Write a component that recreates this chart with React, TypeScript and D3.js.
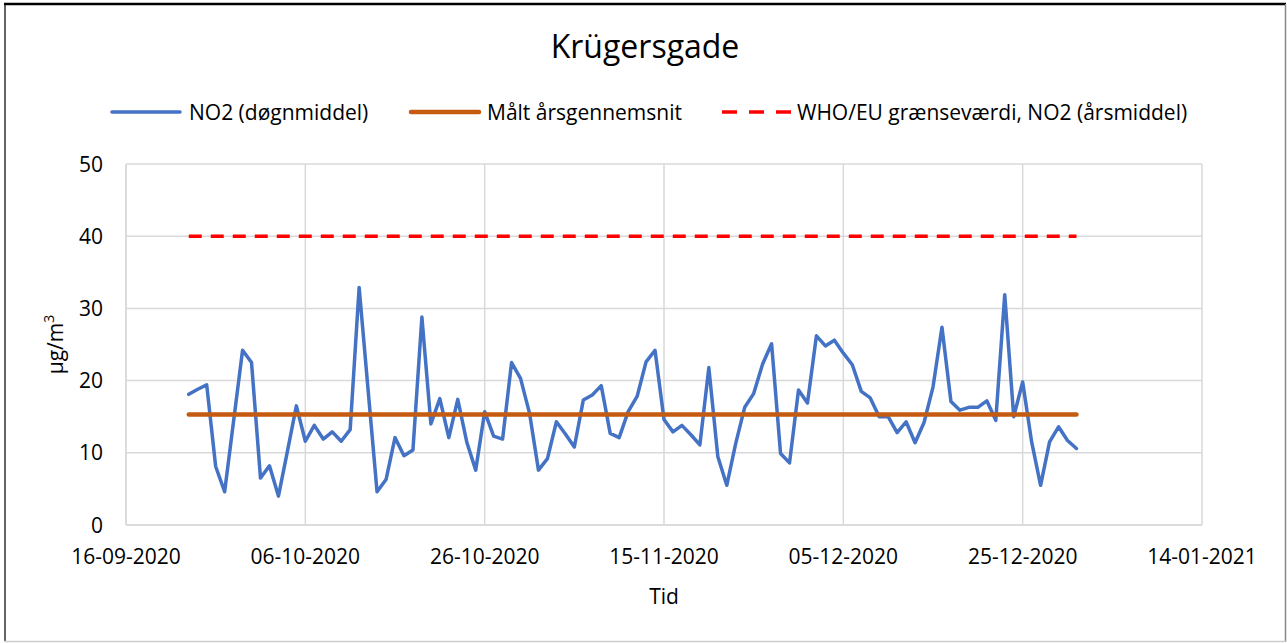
import React from "react";
import * as d3 from "d3";

const title = "Krügersgade";
const startDate = "2020-09-23";
const no2Values: number[] = [
  18.1, 18.8, 19.4, 8.1, 4.6, 14.4, 24.2, 22.5, 6.5, 8.2,
  4.0, 10.2, 16.5, 11.6, 13.8, 11.9, 12.9, 11.6, 13.2, 32.9,
  18.7, 4.6, 6.3, 12.1, 9.6, 10.4, 28.8, 14.0, 17.5, 12.1,
  17.4, 11.5, 7.6, 15.7, 12.3, 11.9, 22.5, 20.3, 15.5, 7.6,
  9.2, 14.3, 12.6, 10.8, 17.3, 18.0, 19.3, 12.7, 12.1, 15.7,
  17.8, 22.6, 24.2, 14.6, 12.9, 13.8, 12.5, 11.1, 21.8, 9.5,
  5.5, 11.3, 16.3, 18.2, 22.3, 25.1, 9.9, 8.6, 18.7, 16.9,
  26.2, 24.8, 25.6, 23.8, 22.2, 18.5, 17.6, 15.0, 15.0, 12.8,
  14.3, 11.4, 14.2, 19.1, 27.4, 17.1, 15.9, 16.3, 16.3, 17.2,
  14.5, 31.9, 15.0, 19.8, 11.5, 5.5, 11.5, 13.6, 11.7, 10.6,
];
const annualMean = 15.3;
const limitValue = 40;
const xTickDates = ["2020-09-16", "2020-10-06", "2020-10-26", "2020-11-15", "2020-12-05", "2020-12-25", "2021-01-14"];
const yTicks = [0, 10, 20, 30, 40, 50];
const legendLabels = ["NO2 (døgnmiddel)", "Målt årsgennemsnit", "WHO/EU grænseværdi, NO2 (årsmiddel)"];
const xTitle = "Tid";

const parse = (s: string) => new Date(s + "T00:00:00Z");

export default function App() {
  const W = 1287, H = 643;
  const left = 126, right = 1202, top = 164, bottom = 525;
  const font = "'Open Sans', 'Noto Sans', sans-serif";
  const start = parse(startDate);
  const dates = no2Values.map((_, i) => d3.utcDay.offset(start, i));
  const x = d3.scaleUtc().domain([parse(xTickDates[0]), parse(xTickDates[xTickDates.length - 1])]).range([left, right]);
  const y = d3.scaleLinear().domain([0, 50]).range([bottom, top]);
  const line = d3.line<number>().x((_, i) => x(dates[i])).y((v) => y(v));
  const fmt = d3.utcFormat("%d-%m-%Y");
  const x0 = x(dates[0]);
  const x1 = x(dates[dates.length - 1]);
  const grid = "#d9d9d9";
  const blue = "#4472C4", orange = "#C55A11", red = "#FF0000";
  const fs = 21;

  return (
    <svg width={W} height={H} style={{ position: "absolute", left: 0, top: 0, background: "#fff" }} fontFamily={font}>
      <rect x={0} y={0} width={W} height={H} fill="#fff" />
      {/* border */}
      <line x1={5} y1={642} x2={5} y2={3} stroke="#666" strokeWidth={2} />
      <line x1={4} y1={4} x2={1286} y2={4} stroke="#000" strokeWidth={2.5} />
      <line x1={1285.5} y1={4} x2={1285.5} y2={642} stroke="#888" strokeWidth={1.5} />
      <line x1={4} y1={641.5} x2={1286} y2={641.5} stroke="#ccc" strokeWidth={1.5} />

      <text x={645} y={58} textAnchor="middle" fontSize={32} fill="#000">{title}</text>

      {/* legend */}
      <g fontSize={fs} fill="#000">
        <line x1={112} y1={112} x2={180} y2={112} stroke={blue} strokeWidth={3.5} strokeLinecap="round" />
        <text x={189} y={119.5}>{legendLabels[0]}</text>
        <line x1={411} y1={112} x2={479} y2={112} stroke={orange} strokeWidth={4.5} strokeLinecap="round" />
        <text x={487} y={119.5}>{legendLabels[1]}</text>
        <line x1={722} y1={112} x2={791} y2={112} stroke={red} strokeWidth={3.5} strokeDasharray="15 12" />
        <text x={797} y={119.5}>{legendLabels[2]}</text>
      </g>

      {/* grid */}
      {yTicks.map((t) => (
        <line key={"gy" + t} x1={left} x2={right} y1={y(t)} y2={y(t)} stroke={grid} strokeWidth={1.5} />
      ))}
      {xTickDates.map((d) => (
        <line key={"gx" + d} x1={x(parse(d))} x2={x(parse(d))} y1={top} y2={bottom} stroke={grid} strokeWidth={1.5} />
      ))}
      <line x1={left} x2={left} y1={top} y2={bottom} stroke={grid} strokeWidth={1.5} />
      <line x1={left} x2={right} y1={bottom} y2={bottom} stroke={grid} strokeWidth={1.5} />

      {/* y ticks */}
      <g fontSize={fs} fill="#000" textAnchor="end">
        {yTicks.map((t) => (
          <text key={"ty" + t} x={103} y={y(t) + 7.5}>{t}</text>
        ))}
      </g>
      {/* x ticks */}
      <g fontSize={fs} fill="#000" textAnchor="middle">
        {xTickDates.map((d) => (
          <text key={"tx" + d} x={x(parse(d))} y={564}>{fmt(parse(d))}</text>
        ))}
      </g>
      <text x={(left + right) / 2} y={604} textAnchor="middle" fontSize={fs} fill="#000">{xTitle}</text>
      <text transform={`translate(63,${(top + bottom) / 2}) rotate(-90)`} textAnchor="middle" fontSize={fs} fill="#000">
        µg/m<tspan dy={-9} fontSize={14}>3</tspan>
      </text>

      {/* series */}
      <line x1={x0} x2={x1} y1={y(limitValue)} y2={y(limitValue)} stroke={red} strokeWidth={3.5} strokeDasharray="13 9" />
      <path d={line(no2Values) || ""} fill="none" stroke={blue} strokeWidth={3.5} strokeLinejoin="round" strokeLinecap="round" />
      <line x1={x0} x2={x1} y1={y(annualMean)} y2={y(annualMean)} stroke={orange} strokeWidth={4.5} strokeLinecap="round" />
    </svg>
  );
}
